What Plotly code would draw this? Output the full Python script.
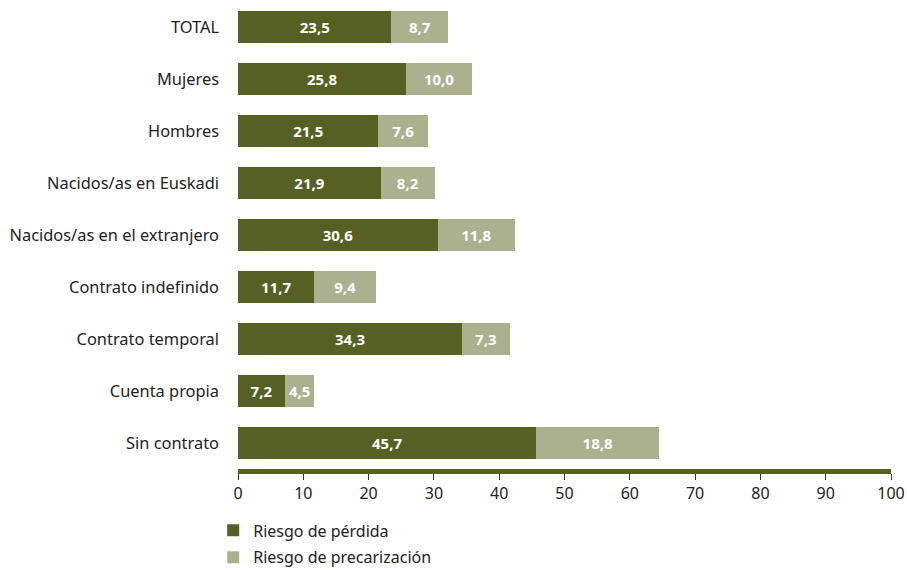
import plotly.graph_objects as go

categories = [
    "TOTAL",
    "Mujeres",
    "Hombres",
    "Nacidos/as en Euskadi",
    "Nacidos/as en el extranjero",
    "Contrato indefinido",
    "Contrato temporal",
    "Cuenta propia",
    "Sin contrato",
]
riesgo_perdida = [23.5, 25.8, 21.5, 21.9, 30.6, 11.7, 34.3, 7.2, 45.7]
riesgo_precarizacion = [8.7, 10.0, 7.6, 8.2, 11.8, 9.4, 7.3, 4.5, 18.8]
x_ticks = [0, 10, 20, 30, 40, 50, 60, 70, 80, 90, 100]

DARK = "#556022"
LIGHT = "#abb08f"
FONT = "Noto Sans"
TEXT = "#222222"


def fmt(v):
    return f"{v:.1f}".replace(".", ",")


fig = go.Figure()
for i, (name, vals, color) in enumerate([
    ("Riesgo de pérdida", riesgo_perdida, DARK),
    ("Riesgo de precarización", riesgo_precarizacion, LIGHT),
]):
    fig.add_trace(
        go.Bar(
            y=categories,
            x=vals,
            name=name,
            legendgroup=f"g{i}",
            orientation="h",
            marker=dict(color=color, line=dict(width=0)),
            text=[fmt(v) for v in vals],
            textposition="inside",
            insidetextanchor="middle",
            textfont=dict(family=FONT, size=15, color="white", weight="bold"),
            hoverinfo="skip",
        )
    )

fig.update_layout(
    width=907,
    height=570,
    barmode="stack",
    bargap=0.4,
    plot_bgcolor="white",
    paper_bgcolor="white",
    margin=dict(l=238, r=16, t=1, b=101, autoexpand=False),
    font=dict(family=FONT, size=16, color=TEXT),
    uniformtext=dict(minsize=15, mode="show"),
    showlegend=True,
    legend=dict(
        orientation="v",
        x=-0.038,
        xanchor="left",
        y=-0.095,
        yanchor="top",
        font=dict(family=FONT, size=16, color=TEXT),
        traceorder="grouped",
        tracegroupgap=3,
    ),
)

fig.update_xaxes(
    range=[0, 100],
    tickvals=x_ticks,
    ticktext=[str(t) for t in x_ticks],
    showgrid=False,
    zeroline=False,
    showline=True,
    linecolor=DARK,
    linewidth=5,
    ticks="outside",
    ticklen=6,
    tickcolor="#333333",
    tickwidth=1,
    tickfont=dict(family=FONT, size=16, color=TEXT),
)
fig.update_yaxes(
    categoryorder="array",
    categoryarray=categories,
    autorange="reversed",
    showgrid=False,
    zeroline=False,
    showline=False,
    ticks="",
    ticklabelstandoff=18,
    tickfont=dict(family=FONT, size=16.4, color=TEXT),
)

fig.write_html("out.html")
